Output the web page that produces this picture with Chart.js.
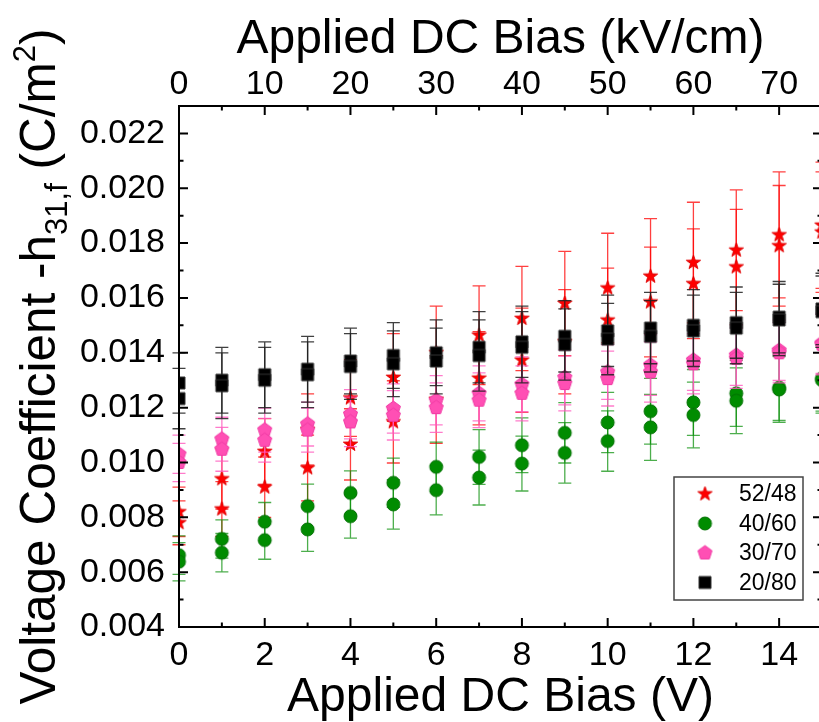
<!DOCTYPE html>
<html lang="en">
<head>
<meta charset="UTF-8">
<title>Voltage Coefficient vs Applied DC Bias</title>
<script src="https://cdn.jsdelivr.net/npm/chart.js"></script>
<style>
  html, body { margin: 0; padding: 0; background: #fff; overflow: hidden; }
  #wrap { width: 840px; height: 722px; }
</style>
</head>
<body>
<div id="wrap"><canvas id="chart" width="840" height="722"></canvas></div>
<script>
// ---- data (two bias sweeps per composition) ----
const biasV = [0, 1, 2, 3, 4, 5, 6, 7, 8, 9, 10, 11, 12, 13, 14, 15];

const pzt5248Up   = [0.0082, 0.0094, 0.0104, 0.0112, 0.01235, 0.0131, 0.0140, 0.01464, 0.01525, 0.0158, 0.01636, 0.01679, 0.01729, 0.01774, 0.0183, 0.01865];
const pzt5248Down = [0.0078, 0.0083, 0.0091, 0.0098, 0.01066, 0.01148, 0.0123, 0.01307, 0.01373, 0.0144, 0.01519, 0.01585, 0.01652, 0.01713, 0.0179, 0.0184];
const pzt5248ErrUp   = [0.0009, 0.0011, 0.0012, 0.0013, 0.0014, 0.0016, 0.0017, 0.0018, 0.0019, 0.0019, 0.0020, 0.0021, 0.0022, 0.0022, 0.0023, 0.0023];
const pzt5248ErrDown = [0.0008, 0.0010, 0.0011, 0.0012, 0.0013, 0.0015, 0.0016, 0.0017, 0.0019, 0.0019, 0.0019, 0.0020, 0.0020, 0.0021, 0.0022, 0.0022];

const pzt4060Up   = [0.00662, 0.00721, 0.00784, 0.00841, 0.00889, 0.00926, 0.00984, 0.0102, 0.01063, 0.01108, 0.01146, 0.01187, 0.01219, 0.01252, 0.01273, 0.01307];
const pzt4060Down = [0.00638, 0.00671, 0.00717, 0.00756, 0.00804, 0.00847, 0.00899, 0.00945, 0.00996, 0.01035, 0.01078, 0.01128, 0.01173, 0.01225, 0.01266, 0.0130];
const pzt4060Err  = [0.0007, 0.0007, 0.0007, 0.0008, 0.0008, 0.0009, 0.0009, 0.0010, 0.0010, 0.0011, 0.0011, 0.0012, 0.0012, 0.0012, 0.0012, 0.0012];

const pzt3070Up   = [0.0103, 0.01085, 0.01118, 0.0114, 0.01176, 0.01197, 0.01227, 0.01252, 0.01285, 0.0131, 0.0133, 0.01355, 0.01373, 0.01391, 0.01409, 0.01435];
const pzt3070Down = [0.0100, 0.01048, 0.01081, 0.01118, 0.01148, 0.01172, 0.0120, 0.01227, 0.01252, 0.01288, 0.01306, 0.0133, 0.0136, 0.0138, 0.0140, 0.0143];
const pzt3070Err  = [0.0007, 0.0008, 0.0008, 0.0008, 0.0009, 0.0009, 0.0009, 0.0010, 0.0010, 0.0010, 0.0010, 0.0011, 0.0011, 0.0011, 0.0011, 0.0011];

const pzt2080Up   = [0.0129, 0.0130, 0.0132, 0.0134, 0.0137, 0.0139, 0.0140, 0.0142, 0.0144, 0.0146, 0.0148, 0.0149, 0.0150, 0.0151, 0.0153, 0.0156];
const pzt2080Down = [0.01233, 0.0128, 0.0130, 0.0132, 0.0135, 0.0136, 0.0137, 0.0139, 0.0142, 0.0143, 0.0145, 0.0146, 0.0148, 0.0149, 0.0152, 0.0155];
const pzt2080Err  = [0.0011, 0.0012, 0.0012, 0.0012, 0.0012, 0.0012, 0.0012, 0.0013, 0.0013, 0.0013, 0.0013, 0.0013, 0.0013, 0.0013, 0.0013, 0.0013];

const seriesLabels = ['52/48', '40/60', '30/70', '20/80'];

const FONT = '"Liberation Sans", Arial, sans-serif';

// marker bitmaps (Chart.js has no filled 5-point star or pentagon)
function makeMarker(shape, r, fill, edge) {
  const c = document.createElement('canvas');
  const s = Math.ceil(r * 2 + 4);
  c.width = c.height = s;
  const g = c.getContext('2d');
  g.translate(s / 2, s / 2);
  g.beginPath();
  if (shape === 'star') {
    for (let i = 0; i < 10; i++) {
      const rad = i % 2 ? r * 0.4 : r;
      const a = -Math.PI / 2 + i * Math.PI / 5;
      g.lineTo(rad * Math.cos(a), rad * Math.sin(a));
    }
  } else if (shape === 'pentagon') {
    for (let i = 0; i < 5; i++) {
      const a = -Math.PI / 2 + i * 2 * Math.PI / 5;
      g.lineTo(r * Math.cos(a), r * Math.sin(a));
    }
  } else if (shape === 'circle') {
    g.arc(0, 0, r, 0, Math.PI * 2);
  } else {
    g.rect(-r, -r, 2 * r, 2 * r);
  }
  g.closePath();
  g.fillStyle = fill;
  g.fill();
  g.lineWidth = 1;
  g.strokeStyle = edge;
  g.stroke();
  return c;
}

const starImg = makeMarker('star', 7.5, '#ff0000', '#e00000');
const circleImg = makeMarker('circle', 6.5, '#008c00', '#007000');
const pentImg = makeMarker('pentagon', 7.4, '#ff4fb4', '#f03ca5');
const squareImg = makeMarker('square', 6, '#000000', '#333333');

function pts(up, down) {
  return biasV.map((v, i) => ({ x: v, y: up[i] })).concat(biasV.map((v, i) => ({ x: v, y: down[i] })));
}

const datasets = [
  { label: seriesLabels[0], data: pts(pzt5248Up, pzt5248Down), errors: pzt5248ErrUp.concat(pzt5248ErrDown),
    pointStyle: starImg, errColor: 'rgba(255,0,0,0.75)', order: 3 },
  { label: seriesLabels[1], data: pts(pzt4060Up, pzt4060Down), errors: pzt4060Err.concat(pzt4060Err),
    pointStyle: circleImg, errColor: 'rgba(0,140,0,0.7)', order: 2 },
  { label: seriesLabels[2], data: pts(pzt3070Up, pzt3070Down), errors: pzt3070Err.concat(pzt3070Err),
    pointStyle: pentImg, errColor: 'rgba(255,90,190,0.8)', order: 1 },
  { label: seriesLabels[3], data: pts(pzt2080Up, pzt2080Down), errors: pzt2080Err.concat(pzt2080Err),
    pointStyle: squareImg, errColor: 'rgba(30,30,30,0.85)', order: 0 }
];
datasets.forEach(d => { d.showLine = false; d.pointRadius = 6; d.xAxisID = 'x'; d.yAxisID = 'y'; });

// error bars, drawn just before each dataset's markers
const errorBars = {
  id: 'errorBars',
  beforeDatasetDraw(chart, args) {
    const ds = chart.data.datasets[args.index];
    const { ctx } = chart;
    const xs = chart.scales.x, ys = chart.scales.y;
    ctx.save();
    ctx.strokeStyle = ds.errColor;
    ctx.lineWidth = 1.3;
    ds.data.forEach((p, i) => {
      const e = ds.errors[i];
      const px = xs.getPixelForValue(p.x);
      const top = ys.getPixelForValue(p.y + e);
      const bot = ys.getPixelForValue(p.y - e);
      ctx.beginPath();
      ctx.moveTo(px, top); ctx.lineTo(px, bot);
      ctx.moveTo(px - 6.5, top); ctx.lineTo(px + 6.5, top);
      ctx.moveTo(px - 6.5, bot); ctx.lineTo(px + 6.5, bot);
      ctx.stroke();
    });
    ctx.restore();
  }
};

// frame with inward ticks, y title with sub/superscripts, boxed legend
const decorations = {
  id: 'decorations',
  afterDraw(chart) {
    const { ctx, chartArea: a } = chart;
    const xs = chart.scales.x, x2 = chart.scales.x2, ys = chart.scales.y;
    ctx.save();
    ctx.strokeStyle = '#000';
    ctx.lineWidth = 2;
    ctx.strokeRect(a.left, a.top, a.right - a.left, a.bottom - a.top);

    ctx.beginPath();
    for (let k = 0; k <= 15; k++) {
      const px = xs.getPixelForValue(k);
      const len = k % 2 === 0 ? 9 : 4.5;
      ctx.moveTo(px, a.bottom); ctx.lineTo(px, a.bottom - len);
    }
    for (let k = 0; k <= 75; k += 5) {
      const px = x2.getPixelForValue(k);
      const len = k % 10 === 0 ? 9 : 4.5;
      ctx.moveTo(px, a.top); ctx.lineTo(px, a.top + len);
    }
    for (let k = 0; k <= 19; k++) {
      const py = ys.getPixelForValue(0.004 + k * 0.001);
      const len = k % 2 === 0 ? 9 : 4.5;
      ctx.moveTo(a.left, py); ctx.lineTo(a.left + len, py);
      ctx.moveTo(a.right, py); ctx.lineTo(a.right - len, py);
    }
    ctx.stroke();

    // y axis title
    const cy = (a.top + a.bottom) / 2;
    const big = 49.5, small = 31;
    const parts = [
      { t: 'Voltage Coefficient -h', s: big, dy: 0 },
      { t: '31,f', s: small, dy: 12 },
      { t: ' (C/m', s: big, dy: 0 },
      { t: '2', s: small, dy: -20 },
      { t: ')', s: big, dy: 0 }
    ];
    let total = 0;
    parts.forEach(p => { ctx.font = p.s + 'px ' + FONT; p.w = ctx.measureText(p.t).width; total += p.w; });
    ctx.translate(55, cy);
    ctx.rotate(-Math.PI / 2);
    ctx.fillStyle = '#000';
    ctx.textBaseline = 'alphabetic';
    let cx = -total / 2;
    parts.forEach(p => { ctx.font = p.s + 'px ' + FONT; ctx.fillText(p.t, cx, p.dy); cx += p.w; });
    ctx.setTransform(1, 0, 0, 1, 0, 0);

    // legend
    const bx = 674, by = 477, bw = 129, bh = 123;
    ctx.lineWidth = 1.5;
    ctx.strokeStyle = '#444';
    ctx.fillStyle = '#fff';
    ctx.fillRect(bx, by, bw, bh);
    ctx.strokeRect(bx, by, bw, bh);
    ctx.font = '23px ' + FONT;
    ctx.textBaseline = 'middle';
    ctx.textAlign = 'left';
    chart.data.datasets.forEach((d, i) => {
      const ry = by + 17 + i * 29.5;
      const img = d.pointStyle;
      ctx.drawImage(img, 705 - img.width / 2, ry - img.height / 2);
      ctx.fillStyle = '#000';
      ctx.fillText(d.label, 739, ry + 1);
    });
    ctx.restore();
  }
};

const tickFont = { family: FONT, size: 34 };
const titleFont = { family: FONT, size: 48, lineHeight: 1 };

new Chart(document.getElementById('chart'), {
  type: 'scatter',
  data: { datasets },
  options: {
    responsive: false,
    animation: false,
    devicePixelRatio: 1,
    layout: { padding: { left: 0, right: 18, top: 0, bottom: 0 } },
    plugins: { legend: { display: false }, tooltip: { enabled: false } },
    scales: {
      x: {
        type: 'linear', position: 'bottom', min: 0, max: 15,
        grid: { display: false, drawTicks: false }, border: { display: false },
        ticks: { stepSize: 2, includeBounds: false, autoSkip: false, maxRotation: 0, padding: 8, color: '#000', font: tickFont },
        title: { display: true, text: 'Applied DC Bias (V)', color: '#000', font: titleFont, padding: 0 },
        afterFit(s) { s.height = 95; }
      },
      x2: {
        type: 'linear', position: 'top', min: 0, max: 75,
        grid: { display: false, drawTicks: false }, border: { display: false },
        ticks: { stepSize: 10, includeBounds: false, autoSkip: false, maxRotation: 0, padding: 1, color: '#000', font: tickFont },
        title: { display: true, text: 'Applied DC Bias (kV/cm)', color: '#000', font: titleFont, padding: { top: 16, bottom: 0 } },
        afterFit(s) { s.height = 106; }
      },
      y: {
        type: 'linear', min: 0.004, max: 0.023,
        grid: { display: false, drawTicks: false }, border: { display: false },
        ticks: { stepSize: 0.002, includeBounds: false, padding: 14, color: '#000', font: tickFont,
          callback: v => v.toFixed(3) },
        afterFit(s) { s.width = 179; }
      }
    }
  },
  plugins: [errorBars, decorations]
});
</script>
</body>
</html>
